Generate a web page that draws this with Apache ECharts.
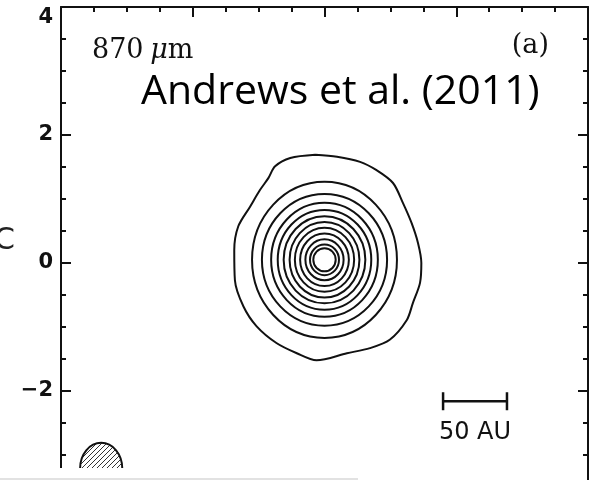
<!DOCTYPE html>
<html>
<head>
<meta charset="utf-8">
<style>
  html, body { margin: 0; padding: 0; background: #fff; }
  #chart { width: 593px; height: 480px; }
</style>
<script src="https://cdn.jsdelivr.net/npm/echarts@6/dist/echarts.min.js"></script>
</head>
<body>
<div id="chart"></div>
<script>
// offsets in arcsec, RA offset runs right-to-left
const axisMin = -4
const axisMax = 4
const majorStep = 2

// centre of the compact 870 micron source
const ringCenter = [0.0, 0.05]
// inner contours, semi-axes (arcsec)
const ringRx = [1.10, 0.95, 0.81, 0.71, 0.62, 0.53, 0.45, 0.37, 0.29, 0.22, 0.17]
const ringRy = [1.22, 1.03, 0.89, 0.78, 0.68, 0.59, 0.50, 0.41, 0.32, 0.24, 0.18]

// lowest contour, traced point by point
const outerContour = [
  [0.14, 1.69], [-0.19, 1.66], [-0.54, 1.58], [-0.79, 1.45], [-1.04, 1.25],
  [-1.19, 0.94], [-1.32, 0.63], [-1.42, 0.31], [-1.47, 0.00], [-1.45, -0.31],
  [-1.34, -0.63], [-1.25, -0.89], [-0.99, -1.20], [-0.69, -1.33], [-0.34, -1.41],
  [0.12, -1.52], [0.42, -1.41], [0.73, -1.25], [1.03, -0.99], [1.23, -0.68],
  [1.36, -0.27], [1.37, 0.20], [1.31, 0.57], [1.13, 0.88], [0.98, 1.14],
  [0.85, 1.33], [0.75, 1.51], [0.52, 1.64], [0.14, 1.69]
]

// synthesized beam: [x, y, rx, ry]
const beam = [3.39, -3.21, 0.32, 0.40]

// scale bar: [xStart, xEnd, y]
const scaleBar = [-1.80, -2.77, -2.16]
const scaleBarLabel = '50 AU'

const ink = '#111'

// hatching for the beam
const hatch = document.createElement('canvas')
hatch.width = 5
hatch.height = 5
const hc = hatch.getContext('2d')
hc.strokeStyle = '#333'
hc.lineWidth = 1
hc.beginPath()
hc.moveTo(0, 5); hc.lineTo(5, 0)
hc.moveTo(-1, 1); hc.lineTo(1, -1)
hc.moveTo(4, 6); hc.lineTo(6, 4)
hc.stroke()

const frameAxis = {
  type: 'value',
  min: axisMin,
  max: axisMax,
  interval: majorStep,
  axisLine: { show: true, onZero: false, lineStyle: { color: ink, width: 2 } },
  axisTick: { show: true, inside: true, length: 10, lineStyle: { color: ink, width: 2 } },
  minorTick: { show: true, splitNumber: 4, length: 5, lineStyle: { color: ink, width: 2 } },
  splitLine: { show: false },
  axisLabel: { show: false }
}

const chart = echarts.init(document.getElementById('chart'))

chart.setOption({
  animation: false,
  backgroundColor: '#fff',
  grid: { left: 61, top: 7, width: 527, height: 512, outerBoundsMode: 'none', containLabel: false },
  xAxis: [
    Object.assign({}, frameAxis, { position: 'bottom', inverse: true }),
    Object.assign({}, frameAxis, { position: 'top', inverse: true })
  ],
  yAxis: [
    Object.assign({}, frameAxis, {
      position: 'left',
      axisLabel: {
        show: true,
        margin: 8,
        color: ink,
        fontFamily: 'DejaVu Sans',
        fontWeight: 'bold',
        fontSize: 21,
        verticalAlignMaxLabel: 'top',
        formatter: (v) => String(v).replace('-', '\u2212')
      }
    }),
    Object.assign({}, frameAxis, { position: 'right' })
  ],
  series: [
    {
      type: 'line',
      data: outerContour,
      smooth: 0.3,
      symbol: 'none',
      lineStyle: { color: ink, width: 2 }
    },
    {
      type: 'custom',
      data: ringRx.map((rx, i) => [ringCenter[0], ringCenter[1], rx, ringRy[i]]),
      renderItem: (params, api) => {
        const c = api.coord([api.value(0), api.value(1)])
        const s = api.size([api.value(2), api.value(3)])
        return {
          type: 'ellipse',
          shape: { cx: c[0], cy: c[1], rx: s[0], ry: s[1] },
          style: { fill: 'none', stroke: ink, lineWidth: 2 }
        }
      }
    },
    {
      type: 'custom',
      data: [beam],
      renderItem: (params, api) => {
        const c = api.coord([api.value(0), api.value(1)])
        const s = api.size([api.value(2), api.value(3)])
        return {
          type: 'ellipse',
          shape: { cx: c[0], cy: c[1], rx: s[0], ry: s[1] },
          style: { fill: { image: hatch, repeat: 'repeat' }, stroke: ink, lineWidth: 2 }
        }
      }
    },
    {
      type: 'custom',
      data: [scaleBar],
      renderItem: (params, api) => {
        const a = api.coord([api.value(0), api.value(2)])
        const b = api.coord([api.value(1), api.value(2)])
        const cap = 9
        const ls = { stroke: ink, lineWidth: 2.5 }
        return {
          type: 'group',
          children: [
            { type: 'line', shape: { x1: a[0], y1: a[1], x2: b[0], y2: b[1] }, style: ls },
            { type: 'line', shape: { x1: a[0], y1: a[1] - cap, x2: a[0], y2: a[1] + cap }, style: ls },
            { type: 'line', shape: { x1: b[0], y1: b[1] - cap, x2: b[0], y2: b[1] + cap }, style: ls },
            {
              type: 'text',
              x: (a[0] + b[0]) / 2,
              y: a[1] + 20,
              style: {
                text: scaleBarLabel,
                font: '24px "DejaVu Sans"',
                fill: ink,
                align: 'center',
                verticalAlign: 'top'
              }
            }
          ]
        }
      }
    }
  ],
  graphic: [
    {
      type: 'text',
      x: 92,
      y: 51,
      style: {
        text: '{r|870}  {i|μ}{r|m}',
        verticalAlign: 'middle',
        rich: {
          r: { font: '27px "DejaVu Serif"', fill: ink },
          i: { font: 'italic 27px "DejaVu Serif"', fill: ink }
        }
      }
    },
    {
      type: 'text',
      x: 549,
      y: 46,
      style: { text: '(a)', font: '27px "DejaVu Serif"', fill: ink, align: 'right', verticalAlign: 'middle' }
    },
    {
      type: 'text',
      x: 141,
      y: 92,
      style: { text: 'Andrews et al. (2011)', font: '41px "Open Sans"', fill: '#000', verticalAlign: 'middle' }
    },
    {
      type: 'text',
      x: -6,
      y: 241,
      style: { text: 'C', font: '30px "DejaVu Sans"', fill: '#222', verticalAlign: 'middle' }
    },
    {
      type: 'rect',
      z: 100,
      shape: { x: 0, y: 468, width: 358, height: 12 },
      style: { fill: '#fff' }
    },
    {
      type: 'rect',
      z: 101,
      shape: { x: 0, y: 478, width: 358, height: 2 },
      style: { fill: '#e2e2e2' }
    }
  ]
})
</script>
</body>
</html>
